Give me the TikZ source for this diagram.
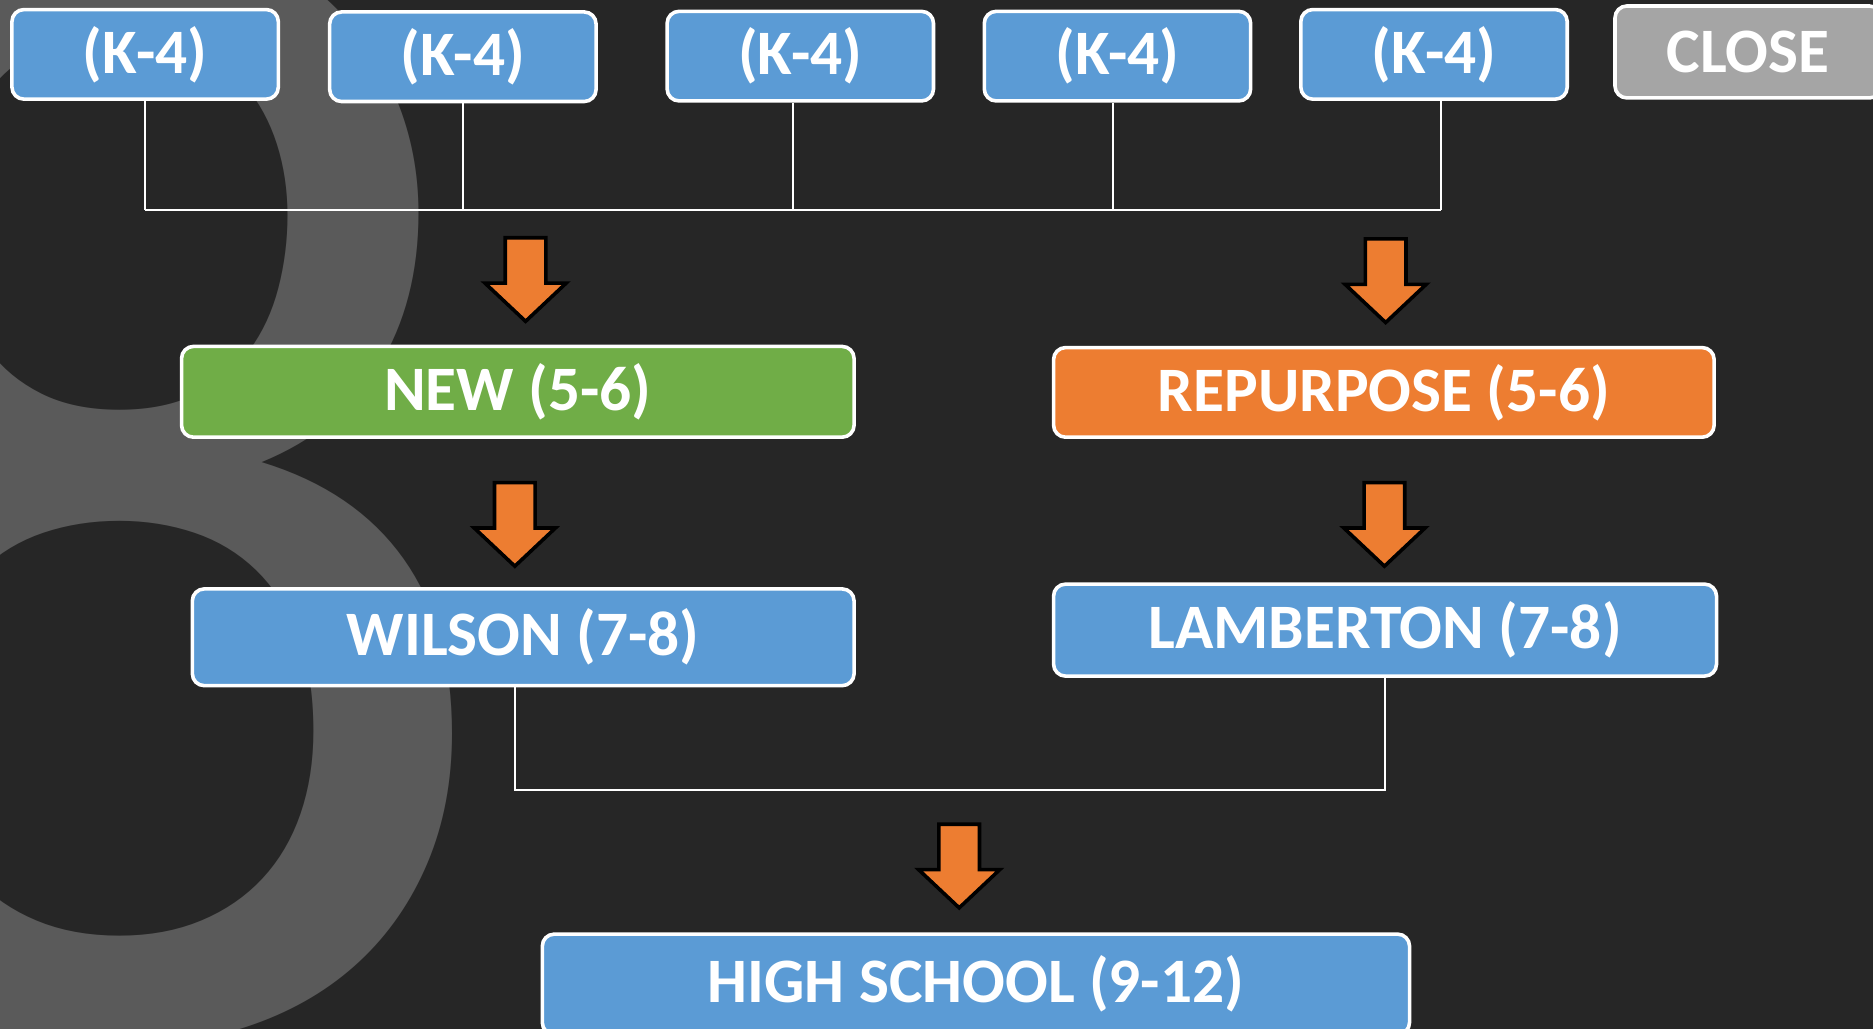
\documentclass[tikz,border=0pt]{standalone}
\usepackage{fontspec}
\setmainfont{Carlito}
\definecolor{bg}{HTML}{262626}
\definecolor{eightgray}{HTML}{5A5A5A}
\definecolor{boxblue}{HTML}{5B9BD5}
\definecolor{boxgreen}{HTML}{70AD47}
\definecolor{boxorange}{HTML}{ED7D31}
\definecolor{boxgray}{HTML}{A5A5A5}
\tikzset{
  box/.style={draw=white, line width=1.5pt, rounded corners=5pt, text=white,
    font=\fontsize{26.5pt}{30pt}\selectfont\bfseries, inner sep=0pt, align=center},
  kbox/.style={box, fill=boxblue, minimum width=111.5pt, minimum height=37.5pt},
  wide/.style={box, minimum height=38pt},
  link/.style={draw=white, line width=0.8pt},
  blockarrow/.style={fill=boxorange, draw=black, line width=1.5pt, miter limit=10}
}
\newcommand{\downarrowat}[2]{%
  \path[blockarrow] (#1-17,#2) -- (#1+17,#2) -- (#1+17,#2+38) -- (#1+34,#2+38)
    -- (#1,#2+70) -- (#1-34,#2+38) -- (#1-17,#2+38) -- cycle;}
\begin{document}
\begin{tikzpicture}[x=0.5pt,y=-0.5pt]
\useasboundingbox (0,0) rectangle (1568,861.4);
\clip (0,0) rectangle (1568,861.4);
\fill[bg] (0,0) rectangle (1568,861.4);
% background numeral
\node[anchor=base, inner sep=0pt, text=eightgray, xscale=0.96,
  font=\fontsize{680pt}{700pt}\selectfont] (eight) at (100,866) {8};
% top row
\node[kbox] (k1) at (121.5,45.5) {(K-4)};
\node[kbox] (k2) at (387.5,47.5) {(K-4)};
\node[kbox] (k3) at (670,47) {(K-4)};
\node[kbox] (k4) at (935.5,47) {(K-4)};
\node[kbox] (k5) at (1200.5,45.5) {(K-4)};
\node[box, fill=boxgray, minimum width=111.5pt, minimum height=38.5pt] (close) at (1463.5,43.5) {CLOSE};
% middle
\node[wide, fill=boxgreen, minimum width=281.5pt] (new) at (433.5,328) {NEW (5-6)};
\node[wide, fill=boxorange, minimum width=276.5pt, minimum height=37.5pt] (rep) at (1158.5,328.5) {REPURPOSE (5-6)};
\node[wide, fill=boxblue, minimum width=277pt, minimum height=40.5pt] (wil) at (438,533.5) {WILSON (7-8)};
\node[wide, fill=boxblue, minimum width=277.5pt, minimum height=38.5pt] (lam) at (1159.5,527.5) {LAMBERTON (7-8)};
\node[wide, fill=boxblue, minimum width=363pt, minimum height=42pt] (hs) at (817,824) {HIGH SCHOOL (9-12)};
% bus lines
\coordinate (bus1) at (0,176);
\coordinate (bus2) at (0,661);
\coordinate (t1) at (k1.south);
\coordinate (t2) at (k2.south);
\coordinate (t3) at ([xshift=-3pt]k3.south);
\coordinate (t4) at ([xshift=-1.75pt]k4.south);
\coordinate (t5) at ([xshift=2.75pt]k5.south);
\draw[link] (t1) -- (t1 |- bus1);
\draw[link] (t2) -- (t2 |- bus1);
\draw[link] (t3) -- (t3 |- bus1);
\draw[link] (t4) -- (t4 |- bus1);
\draw[link] (t5) -- (t5 |- bus1);
\draw[link] (t1 |- bus1) -- (t5 |- bus1);
\coordinate (wl) at ([xshift=-3.5pt]wil.south);
\coordinate (ll) at (lam.south);
\draw[link] (wl) -- (wl |- bus2) -- (ll |- bus2) -- (ll);
% block arrows
\downarrowat{440}{199}
\downarrowat{1160}{200}
\downarrowat{431}{404}
\downarrowat{1159}{404}
\downarrowat{803}{690}
\end{tikzpicture}
\end{document}
